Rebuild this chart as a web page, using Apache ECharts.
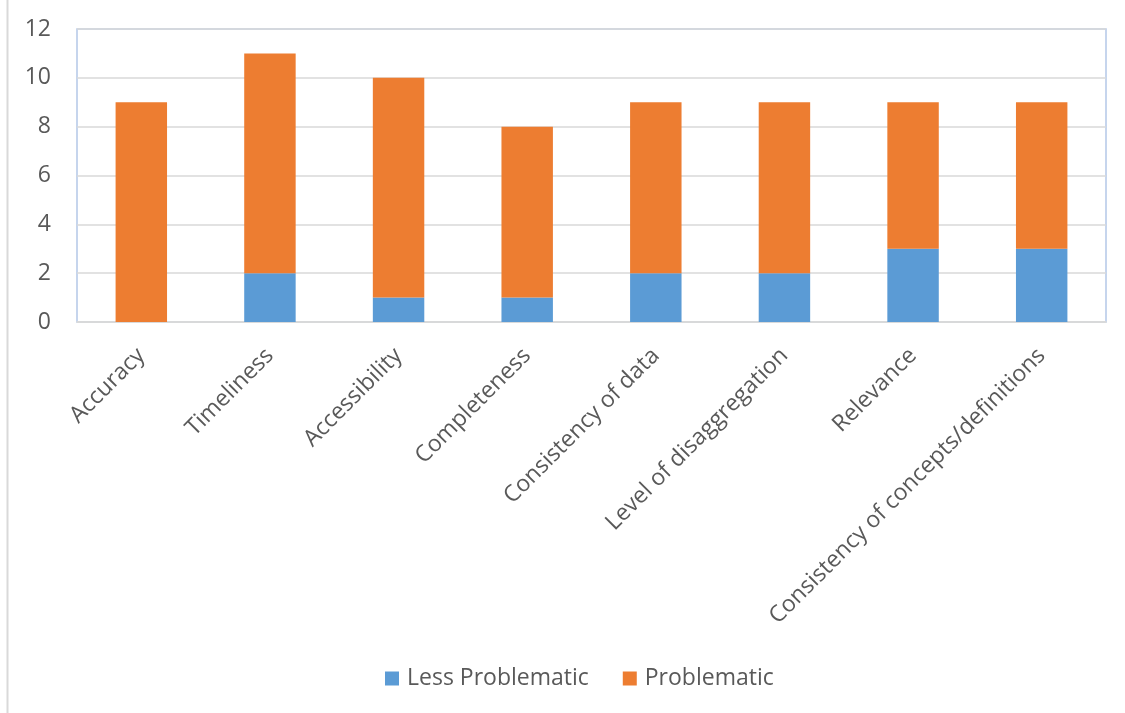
<!DOCTYPE html>
<html><head><meta charset="utf-8">
<script src="https://cdn.jsdelivr.net/npm/echarts@6/dist/echarts.min.js"></script>
<style>html,body{margin:0;padding:0;background:#fff}#c{width:1125px;height:713px}</style>
</head><body><div id="c"></div>
<script>
const categories = ["Accuracy","Timeliness","Accessibility","Completeness","Consistency of data","Level of disaggregation","Relevance","Consistency of concepts/definitions"];
const lessProblematic = [0,2,1,1,2,2,3,3];
const problematic = [9,9,9,7,7,7,6,6];
const yTicks = {min:0, max:12, interval:2};
const FONT = "'Open Sans', sans-serif";
const chart = echarts.init(document.getElementById('c'));
chart.setOption({
  animation:false,
  graphic:[{type:'line',shape:{x1:7.5,y1:0,x2:7.5,y2:713},style:{stroke:'#d9d9d9',lineWidth:2}}],
  grid:{left:77,right:19,top:29,bottom:391,show:true,borderColor:'#B4C7E7',borderWidth:1.5},
  legend:{bottom:18,left:380,itemWidth:14,itemHeight:14,itemGap:34,icon:'rect',
    textStyle:{fontFamily:FONT,fontSize:23,color:'#595959',padding:[0,0,0,3]}},
  xAxis:{type:'category',data:categories,
    axisLine:{lineStyle:{color:'#d9d9d9',width:1.5}},axisTick:{show:false},
    axisLabel:{rotate:45,interval:0,margin:30,fontFamily:FONT,fontSize:23,color:'#595959'}},
  yAxis:{type:'value',min:yTicks.min,max:yTicks.max,interval:yTicks.interval,
    axisLine:{show:false},axisTick:{show:false},
    splitLine:{lineStyle:{color:'#d9d9d9',width:1.5}},
    axisLabel:{margin:26,fontFamily:FONT,fontSize:23,color:'#595959'}},
  series:[
    {name:'Less Problematic',type:'bar',stack:'a',data:lessProblematic,barWidth:'40%',itemStyle:{color:'#5B9BD5'}},
    {name:'Problematic',type:'bar',stack:'a',data:problematic,barWidth:'40%',itemStyle:{color:'#ED7D31'}}
  ]
});
</script></body></html>
